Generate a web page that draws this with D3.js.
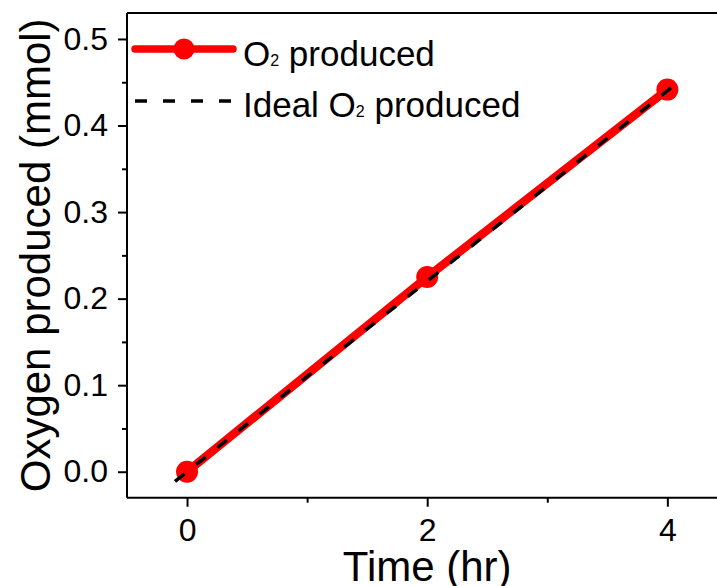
<!DOCTYPE html>
<html>
<head>
<meta charset="utf-8">
<script src="https://cdn.jsdelivr.net/npm/d3@7"></script>
<style>
  html, body { margin: 0; padding: 0; background: #fff; overflow: hidden; }
  text { font-family: Arial, "Liberation Sans", sans-serif; fill: #000; }
</style>
</head>
<body>
<svg id="chart" width="717" height="586"></svg>
<script>
// ---- data ----
const time = [0, 2, 4];
const o2Produced = [0, 0.225, 0.4415];
const idealTime = [-0.1, 4.08];
const idealO2 = [-0.011, 0.449];
const xMajorTicks = [0, 2, 4];
const xMinorTicks = [1, 3];
const yMajorTicks = [0, 0.1, 0.2, 0.3, 0.4, 0.5];
const yMinorTicks = [0.05, 0.15, 0.25, 0.35, 0.45];
const seriesNames = ["O", "2", " produced"];
const idealNames = ["Ideal O", "2", " produced"];
const xTitle = "Time (hr)";
const yTitle = "Oxygen produced (mmol)";

(function () {
// ---- layout ----
const svg = d3.select("#chart");
const pL = 127, pR = 727.4, pT = 13, pB = 497.7;
const x = d3.scaleLinear().domain([-0.5, 4.5]).range([pL, pR]);
const y = d3.scaleLinear().domain([-0.03, 0.53]).range([pB, pT]);
const red = "#ff0000";
const tickFont = 32;

// top border (box) and right border
svg.append("line").attr("x1", pL).attr("x2", pR).attr("y1", pT).attr("y2", pT)
  .attr("stroke", "#000").attr("stroke-width", 2);
svg.append("line").attr("x1", pR).attr("x2", pR).attr("y1", pT).attr("y2", pB)
  .attr("stroke", "#000").attr("stroke-width", 2);

// axes
const xAxis = svg.append("g").attr("transform", `translate(0,${pB})`)
  .call(d3.axisBottom(x).tickValues(xMajorTicks).tickFormat(d3.format("d")).tickSize(9).tickPadding(12));
const xMinor = svg.append("g").attr("transform", `translate(0,${pB})`)
  .call(d3.axisBottom(x).tickValues(xMinorTicks).tickFormat("").tickSize(5));
const yAxis = svg.append("g").attr("transform", `translate(${pL},0)`)
  .call(d3.axisLeft(y).tickValues(yMajorTicks).tickFormat(d3.format(".1f")).tickSize(9).tickPadding(10));
const yMinor = svg.append("g").attr("transform", `translate(${pL},0)`)
  .call(d3.axisLeft(y).tickValues(yMinorTicks).tickFormat("").tickSize(5));

[xAxis, xMinor, yAxis, yMinor].forEach(g => {
  g.select(".domain").attr("stroke", "#000").attr("stroke-width", 2);
  g.selectAll(".tick line").attr("stroke", "#000").attr("stroke-width", 2);
  g.selectAll(".tick text").attr("font-size", tickFont)
    .attr("font-family", "Arial, 'Liberation Sans', sans-serif").attr("fill", "#000");
});
xMinor.select(".domain").remove();
yMinor.select(".domain").remove();
xAxis.select(".domain").attr("d", `M${pL},0H${pR}`);
yAxis.select(".domain").attr("d", `M0,${pT}V${pB}`);

// axis titles
svg.append("text").attr("x", (pL + pR) / 2).attr("y", 581)
  .attr("text-anchor", "middle").attr("font-size", 42).text(xTitle);
svg.append("text").attr("transform", `translate(50,${(pT + pB) / 2}) rotate(-90)`)
  .attr("text-anchor", "middle").attr("font-size", 42).text(yTitle);

// clip
svg.append("clipPath").attr("id", "plotclip").append("rect")
  .attr("x", pL).attr("y", pT).attr("width", pR - pL).attr("height", pB - pT);
const plot = svg.append("g").attr("clip-path", "url(#plotclip)");

// data series
const pts = time.map((t, i) => [t, o2Produced[i]]);
const line = d3.line().x(d => x(d[0])).y(d => y(d[1]));
plot.append("path").datum(pts).attr("d", line)
  .attr("fill", "none").attr("stroke", red).attr("stroke-width", 8.5).attr("stroke-linejoin", "round");
plot.selectAll("circle.pt").data(pts).enter().append("circle")
  .attr("class", "pt")
  .attr("cx", d => x(d[0])).attr("cy", d => y(d[1])).attr("r", 11).attr("fill", red);

const ideal = idealTime.map((t, i) => [t, idealO2[i]]);
plot.append("path").datum(ideal).attr("d", line)
  .attr("fill", "none").attr("stroke", "#000").attr("stroke-width", 3.5).attr("stroke-dasharray", "12,15");

// legend
const lg = svg.append("g");
lg.append("line").attr("x1", 135).attr("x2", 233).attr("y1", 49).attr("y2", 49)
  .attr("stroke", red).attr("stroke-width", 7.5).attr("stroke-linecap", "round");
lg.append("circle").attr("cx", 184).attr("cy", 49).attr("r", 10.5).attr("fill", red);
lg.append("line").attr("x1", 135).attr("x2", 233).attr("y1", 101).attr("y2", 101)
  .attr("stroke", "#000").attr("stroke-width", 3.5).attr("stroke-dasharray", "12,16");

function legendText(parts, yy) {
  const t = lg.append("text").attr("x", 243).attr("y", yy).attr("font-size", 35);
  t.append("tspan").text(parts[0]);
  t.append("tspan").attr("font-size", 16).text(parts[1]);
  t.append("tspan").text(parts[2]);
}
legendText(seriesNames, 66);
legendText(idealNames, 117);
})();
</script>
</body>
</html>
